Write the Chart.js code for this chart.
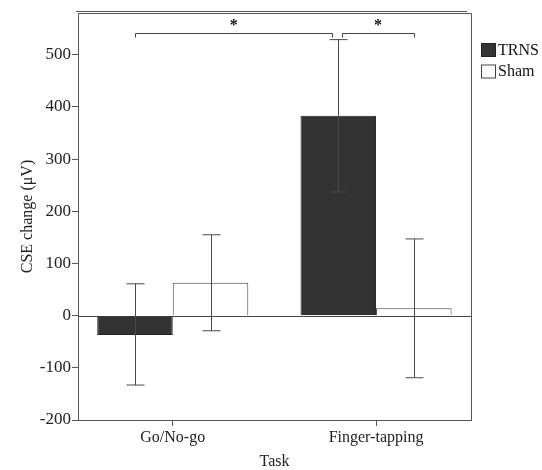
<!DOCTYPE html>
<html>
<head>
<meta charset="utf-8">
<script src="https://cdn.jsdelivr.net/npm/chart.js@4.4.1/dist/chart.umd.min.js"></script>
<style>
  html, body { margin: 0; padding: 0; background: #fff; }
  #wrap { width: 542px; height: 470px; }
</style>
</head>
<body>
<div id="wrap"><canvas id="c" width="542" height="470"></canvas></div>
<script>
// ---- data ----
const categories = ['Go/No-go', 'Finger-tapping'];
const seriesNames = ['TRNS', 'Sham'];
const trnsMean = [-37, 383];
const trnsLow  = [-133, 237];
const trnsHigh = [61, 529];
const shamMean = [63, 14];
const shamLow  = [-29, -119];
const shamHigh = [155, 147];
const yTickValues = [-200, -100, 0, 100, 200, 300, 400, 500];
const yMin = -200, yMax = 580;
// significance brackets: [dataset, index] pairs, bracket height value
const sigStart = [[0, 0], [0, 1]];
const sigEnd   = [[0, 1], [1, 1]];
const sigLevel = [542, 542];
const sigLabel = ['*', '*'];

const serif = "'Liberation Serif', 'Times New Roman', serif";
const lineCol = '#555';

const errorBars = {
  id: 'errorBars',
  afterDatasetsDraw(chart) {
    const ctx = chart.ctx, y = chart.scales.y;
    const lows = [trnsLow, shamLow], highs = [trnsHigh, shamHigh];
    ctx.save();
    ctx.strokeStyle = '#4a4a4a';
    ctx.lineWidth = 1;
    chart.data.datasets.forEach((ds, di) => {
      const meta = chart.getDatasetMeta(di);
      meta.data.forEach((bar, i) => {
        const x = Math.round(bar.x) + 0.5;
        const yl = y.getPixelForValue(lows[di][i]);
        const yh = y.getPixelForValue(highs[di][i]);
        ctx.beginPath();
        ctx.moveTo(x, yl); ctx.lineTo(x, yh);
        ctx.moveTo(x - 9, yl); ctx.lineTo(x + 9, yl);
        ctx.moveTo(x - 9, yh); ctx.lineTo(x + 9, yh);
        ctx.stroke();
      });
    });
    ctx.restore();
  }
};

const frame = {
  id: 'frame',
  beforeDatasetsDraw(chart) {
    const {ctx, chartArea: a} = chart;
    const y0 = chart.scales.y.getPixelForValue(0);
    ctx.save();
    ctx.strokeStyle = '#444';
    ctx.lineWidth = 1;
    ctx.beginPath();
    ctx.moveTo(a.left, Math.round(y0) + 0.5);
    ctx.lineTo(a.right, Math.round(y0) + 0.5);
    ctx.stroke();
    ctx.restore();
  },
  afterDraw(chart) {
    const {ctx, chartArea: a} = chart;
    ctx.save();
    ctx.strokeStyle = lineCol;
    ctx.lineWidth = 1;
    ctx.beginPath();
    ctx.moveTo(a.left, a.top + 0.5);
    ctx.lineTo(a.right + 0.5, a.top + 0.5);
    ctx.lineTo(a.right + 0.5, a.bottom);
    ctx.moveTo(a.left - 2, a.top - 1.5);
    ctx.lineTo(a.right - 4, a.top - 1.5);
    ctx.stroke();

    // significance brackets
    const y = chart.scales.y;
    ctx.strokeStyle = '#444';
    ctx.fillStyle = '#111';
    ctx.font = 'bold 16px ' + serif;
    ctx.textAlign = 'center';
    ctx.textBaseline = 'middle';
    sigStart.forEach((s, k) => {
      const e = sigEnd[k];
      let x1 = chart.getDatasetMeta(s[0]).data[s[1]].x;
      let x2 = chart.getDatasetMeta(e[0]).data[e[1]].x;
      if (k > 0 && s[0] === sigEnd[k - 1][0] && s[1] === sigEnd[k - 1][1]) x1 += 4;
      if (k < sigStart.length - 1 && e[0] === sigStart[k + 1][0] && e[1] === sigStart[k + 1][1]) x2 -= 6;
      const yy = Math.round(y.getPixelForValue(sigLevel[k])) + 0.5;
      ctx.beginPath();
      ctx.moveTo(Math.round(x1) + 0.5, yy + 4);
      ctx.lineTo(Math.round(x1) + 0.5, yy);
      ctx.lineTo(Math.round(x2) + 0.5, yy);
      ctx.lineTo(Math.round(x2) + 0.5, yy + 4);
      ctx.stroke();
      ctx.fillText(sigLabel[k], (x1 + x2) / 2, yy - 8);
    });

    // legend
    const fills = chart.data.datasets.map(d => d.backgroundColor);
    const borders = chart.data.datasets.map(d => d.borderColor);
    ctx.font = '16px ' + serif;
    ctx.textAlign = 'left';
    ctx.fillStyle = '#111';
    seriesNames.forEach((name, i) => {
      const by = 43 + i * 21.5;
      ctx.fillStyle = fills[i];
      ctx.fillRect(481.5, by + 0.5, 14, 13);
      ctx.strokeStyle = borders[i];
      ctx.strokeRect(481.5, by + 0.5, 14, 13);
      ctx.fillStyle = '#111';
      ctx.fillText(name, 498, by + 7.5);
    });
    ctx.restore();
  }
};

new Chart(document.getElementById('c'), {
  type: 'bar',
  data: {
    datasets: [
      { label: seriesNames[0], data: trnsMean.map((v, i) => ({x: i, y: v})),
        backgroundColor: '#333333', borderColor: '#222222', borderWidth: 1,
        categoryPercentage: 0.743, barPercentage: 1.0 },
      { label: seriesNames[1], data: shamMean.map((v, i) => ({x: i, y: v})),
        backgroundColor: '#ffffff', borderColor: '#444444', borderWidth: 1,
        categoryPercentage: 0.743, barPercentage: 1.0 }
    ]
  },
  options: {
    responsive: false,
    animation: false,
    events: [],
    layout: { padding: { left: 0, right: 71, top: 13, bottom: 0 } },
    plugins: { legend: { display: false }, tooltip: { enabled: false } },
    scales: {
      x: {
        type: 'linear',
        min: -0.466, max: 1.467,
        offset: false,
        afterBuildTicks(s) { s.ticks = categories.map((c, i) => ({value: i})); },
        afterFit(s) { s.height = 50; },
        ticks: {
          callback: (v) => categories[v],
          font: { family: serif, size: 16 },
          color: '#222',
          padding: 2,
          maxRotation: 0, autoSkip: false
        },
        grid: { offset: false, drawOnChartArea: false, drawTicks: true, tickLength: 6, color: lineCol },
        border: { display: true, color: lineCol, width: 1 },
        title: { display: true, text: 'Task', font: { family: serif, size: 16, lineHeight: 1.0 }, color: '#222', padding: { top: 0, bottom: 0 } }
      },
      y: {
        min: yMin, max: yMax,
        afterBuildTicks(s) { s.ticks = yTickValues.map(v => ({value: v})); },
        afterFit(s) { s.width = 78; },
        ticks: {
          font: { family: serif, size: 17 },
          color: '#222',
          padding: 1
        },
        grid: { drawOnChartArea: false, drawTicks: true, tickLength: 6, color: lineCol },
        border: { display: true, color: lineCol, width: 1 },
        title: { display: true, text: 'CSE change (μV)', font: { family: serif, size: 16 }, color: '#222', padding: { top: 18, bottom: 0 } }
      }
    }
  },
  plugins: [errorBars, frame]
});
</script>
</body>
</html>
